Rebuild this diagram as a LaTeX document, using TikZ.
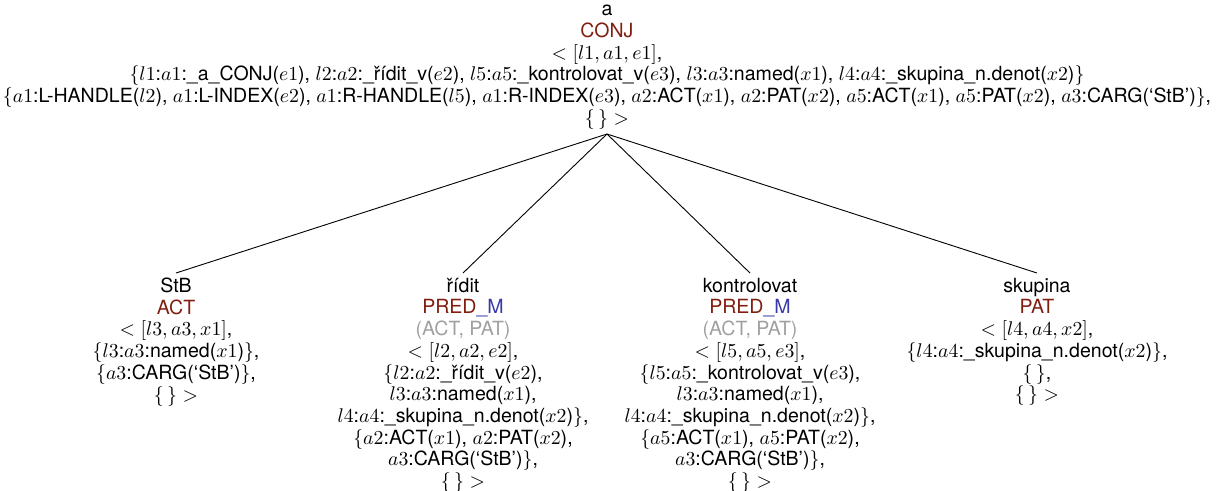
\documentclass[tikz,border=0pt]{standalone}
\usepackage[no-math]{fontspec}
\setmainfont{TeX Gyre Heros}
\definecolor{fnred}{RGB}{128,30,16}
\definecolor{fnblue}{RGB}{56,56,168}
\definecolor{valgray}{RGB}{160,160,160}
\newcommand{\fun}[1]{\textcolor{fnred}{#1}}
\newcommand{\mfun}[1]{\textcolor{fnblue}{#1}}
\newcommand{\val}[1]{\textcolor{valgray}{#1}}
\tikzset{
	lex/.style={align=center, inner sep=2.5pt, font=\fontsize{10.8}{12}\selectfont},
	edge/.style={black, line width=0.5pt},
}

\begin{document}
\begin{tikzpicture}[x=0.5525pt,y=-0.5525pt]
	\useasboundingbox (0,0) rectangle (1217,490);

	\node [lex, anchor=south] (conj) at (607,134) {a\\
		\fun{CONJ}\\
		$<[l1, a1, e1]$,\\
		$\{l1$:$a1$:\_a\_CONJ($e1$), $l2$:$a2$:\_řídit\_v($e2$), $l5$:$a5$:\_kontrolovat\_v($e3$), $l3$:$a3$:named($x1$), $l4$:$a4$:\_skupina\_n.denot($x2$)$\}$\\
		$\{a1$:L-HANDLE($l2$), $a1$:L-INDEX($e2$), $a1$:R-HANDLE($l5$), $a1$:R-INDEX($e3$), $a2$:ACT($x1$), $a2$:PAT($x2$), $a5$:ACT($x1$), $a5$:PAT($x2$), $a3$:CARG(`StB')$\}$,\\
		$\{\,\}>$};

	\node [lex, anchor=north] (stb) at (176,273) {StB\\
		\fun{ACT}\\
		$<[l3, a3, x1]$,\\
		$\{l3$:$a3$:named($x1$)$\}$,\\
		$\{a3$:CARG(`StB')$\}$,\\
		$\{\,\}>$};

	\node [lex, anchor=north] (ridit) at (463,273) {řídit\\
		\fun{PRED}\mfun{\_M}\\
		\val{(ACT, PAT)}\\
		$<[l2, a2, e2]$,\\
		$\{l2$:$a2$:\_řídit\_v($e2$),\\
		$l3$:$a3$:named($x1$),\\
		$l4$:$a4$:\_skupina\_n.denot($x2$)$\}$,\\
		$\{a2$:ACT($x1$), $a2$:PAT($x2$),\\
		$a3$:CARG(`StB')$\}$,\\
		$\{\,\}>$};

	\node [lex, anchor=north] (kontr) at (750,273) {kontrolovat\\
		\fun{PRED}\mfun{\_M}\\
		\val{(ACT, PAT)}\\
		$<[l5, a5, e3]$,\\
		$\{l5$:$a5$:\_kontrolovat\_v($e3$),\\
		$l3$:$a3$:named($x1$),\\
		$l4$:$a4$:\_skupina\_n.denot($x2$)$\}$,\\
		$\{a5$:ACT($x1$), $a5$:PAT($x2$),\\
		$a3$:CARG(`StB')$\}$,\\
		$\{\,\}>$};

	\node [lex, anchor=north] (skup) at (1037,273) {skupina\\
		\fun{PAT}\\
		$<[l4, a4, x2]$,\\
		$\{l4$:$a4$:\_skupina\_n.denot($x2$)$\}$,\\
		$\{\,\}$,\\
		$\{\,\}>$};

	\draw [edge] (conj.south) -- (stb.north);
	\draw [edge] (conj.south) -- (ridit.north);
	\draw [edge] (conj.south) -- (kontr.north);
	\draw [edge] (conj.south) -- (skup.north);
\end{tikzpicture}
\end{document}
